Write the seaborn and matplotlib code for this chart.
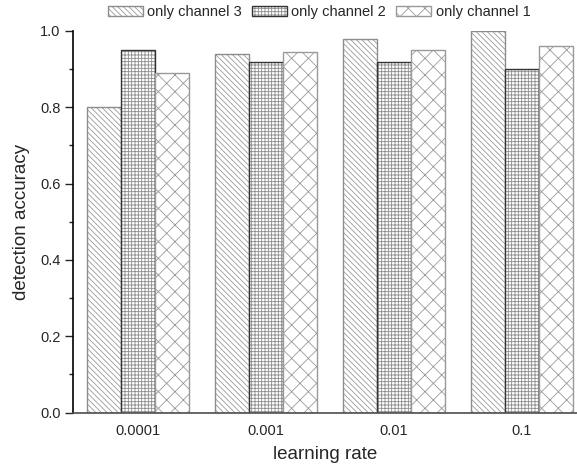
import numpy as np
import pandas as pd
import matplotlib
matplotlib.use("Agg")
import matplotlib.pyplot as plt
import seaborn as sns
from matplotlib.ticker import MultipleLocator

# --- data ---
learning_rates = ['0.0001', '0.001', '0.01', '0.1']
series_names = ['only channel 3', 'only channel 2', 'only channel 1']
channel3 = [0.80, 0.94, 0.98, 1.00]
channel2 = [0.95, 0.92, 0.92, 0.90]
channel1 = [0.89, 0.945, 0.95, 0.96]

df = pd.DataFrame({
    'learning rate': learning_rates * 3,
    'series': np.repeat(series_names, len(learning_rates)),
    'accuracy': channel3 + channel2 + channel1,
})

sns.set_style('ticks')
plt.rcParams['font.family'] = ['Liberation Sans', 'DejaVu Sans']
plt.rcParams['hatch.linewidth'] = 0.6

fig = plt.figure(figsize=(5.77, 4.68), dpi=100)
ax = fig.add_axes([73 / 577, 55.5 / 468, 504 / 577, 381.5 / 468])

sns.barplot(data=df, x='learning rate', y='accuracy', hue='series',
            hue_order=series_names, order=learning_rates,
            width=0.8, gap=0, palette=['white'] * 3,
            edgecolor='0.45', linewidth=1.0, legend=False, ax=ax)

# hatch pattern per series, the reference is printed in black & white
hatches = ['\\\\\\\\\\\\', '+++++', 'xx']
hatch_cols = ['0.6', '0.55', '0.6']
edge_cols = ['0.55', '0.2', '0.6']
for cont, h, hc, ec in zip(ax.containers, hatches, hatch_cols, edge_cols):
    for bar in cont:
        bar.set_hatch(h)
        bar.set_edgecolor(ec)
        bar._hatch_color = matplotlib.colors.to_rgba(hc)

ax.set_xlim(-0.508, 3.43)
ax.set_ylim(0, 1.0)
ax.yaxis.set_major_locator(MultipleLocator(0.2))
ax.yaxis.set_minor_locator(MultipleLocator(0.1))
ax.tick_params(axis='y', which='major', length=6, width=1, direction='out',
               labelsize=10.5, pad=3)
ax.tick_params(axis='y', which='minor', length=3, width=1, direction='out')
ax.tick_params(axis='x', length=0, labelsize=10.5, pad=8)

sns.despine(ax=ax)
ax.spines['left'].set_linewidth(1.2)
ax.spines['bottom'].set_linewidth(1.2)
ax.spines['left'].set_color('black')
ax.spines['bottom'].set_color('0.3')

ax.set_xlabel('learning rate', fontsize=13.5, labelpad=6)
ax.set_ylabel('detection accuracy', fontsize=13.5, labelpad=7)

handles = [cont[0] for cont in ax.containers]
fig.legend(handles, series_names, loc='center', ncol=3, frameon=False,
           bbox_to_anchor=(319 / 577, 1 - 12 / 468), fontsize=10.5,
           handlelength=2.4, handleheight=0.75, handletextpad=0.3,
           columnspacing=0.7, borderpad=0)

fig.savefig('out.png', dpi=100)
